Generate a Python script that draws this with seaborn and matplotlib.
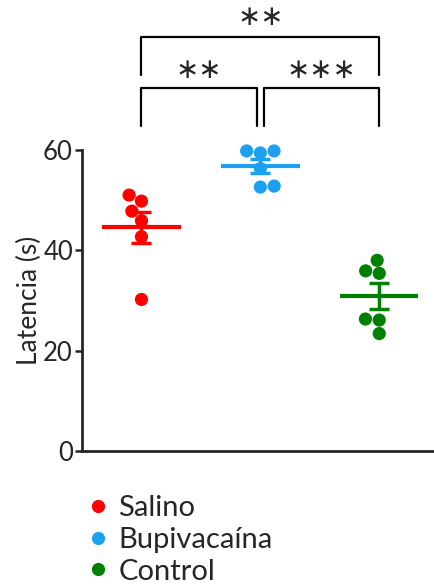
import numpy as np
import pandas as pd
import matplotlib
matplotlib.use("Agg")
import matplotlib.pyplot as plt
import seaborn as sns

# === DATA ===
groups = ["Salino", "Bupivacaína", "Control"]
salino = [51.0, 49.8, 47.8, 45.9, 42.7, 30.2]
bupivacaina = [59.8, 59.4, 59.8, 56.3, 52.6, 52.8]
control = [38.0, 35.9, 35.4, 26.3, 26.1, 23.4]
colors = ["#ff0000", "#1ea0f0", "#008000"]

df = pd.DataFrame({
    "grupo": np.repeat(groups, 6),
    "latencia": salino + bupivacaina + control,
})

sns.set_style("ticks")
plt.rcParams["font.family"] = ["Lato", "DejaVu Sans"]

fig = plt.figure(figsize=(4.35, 5.88), dpi=100)
ax = fig.add_axes([0.1885, 0.233, 0.82, 0.512])

sns.swarmplot(data=df, x="grupo", y="latencia", hue="grupo", palette=colors,
              size=9.5, ax=ax, legend=False, zorder=3)
for c in ax.collections:
    c.set_clip_on(False)

# mean + SEM
stats = df.groupby("grupo", sort=False)["latencia"].agg(["mean", "sem"])
for i, g in enumerate(groups):
    m, s = stats.loc[g, "mean"], stats.loc[g, "sem"]
    ax.hlines(m, i - 0.33, i + 0.33, color=colors[i], lw=3, zorder=4)
    ax.errorbar(i, m, yerr=s, color=colors[i], capsize=7.5, capthick=2.5,
                elinewidth=2.5, zorder=4)

ax.set_ylim(0, 60)
ax.set_xlim(-0.5, 2.5)
ax.set_yticks([0, 20, 40, 60])
ax.set_xticks([])
ax.set_xlabel("")
ax.set_ylabel("Latencia (s)", fontsize=19, labelpad=1)
ax.tick_params(axis="y", labelsize=18.5, width=1.8, length=5, pad=1.5)
for sp in ["left", "bottom"]:
    ax.spines[sp].set_linewidth(2)
sns.despine(ax=ax)

# significance brackets
def bracket(x1, x2, y_top, y_low, txt, ty):
    ax.plot([x1, x1, x2, x2], [y_low, y_top, y_top, y_low], color="black",
            lw=1.6, clip_on=False)
    ax.text((x1 + x2) / 2, ty, txt, ha="center", va="center", fontsize=20,
            family="DejaVu Sans", clip_on=False)

bracket(0, 0.97, 72.4, 64.8, "∗∗", 75.9)
bracket(1.03, 2, 72.4, 64.8, "∗∗∗", 75.9)
bracket(0, 2, 82.5, 74.9, "∗∗", 86.4)

# legend
handles = [plt.Line2D([], [], marker="o", ls="", color=c, markersize=8.5)
           for c in colors]
fig.legend(handles, groups, loc="upper left", bbox_to_anchor=(0.165, 0.183),
           frameon=False, fontsize=21, handletextpad=0.3, labelspacing=0.2,
           borderpad=0, handlelength=0.8)

fig.savefig("out.png", dpi=100)
